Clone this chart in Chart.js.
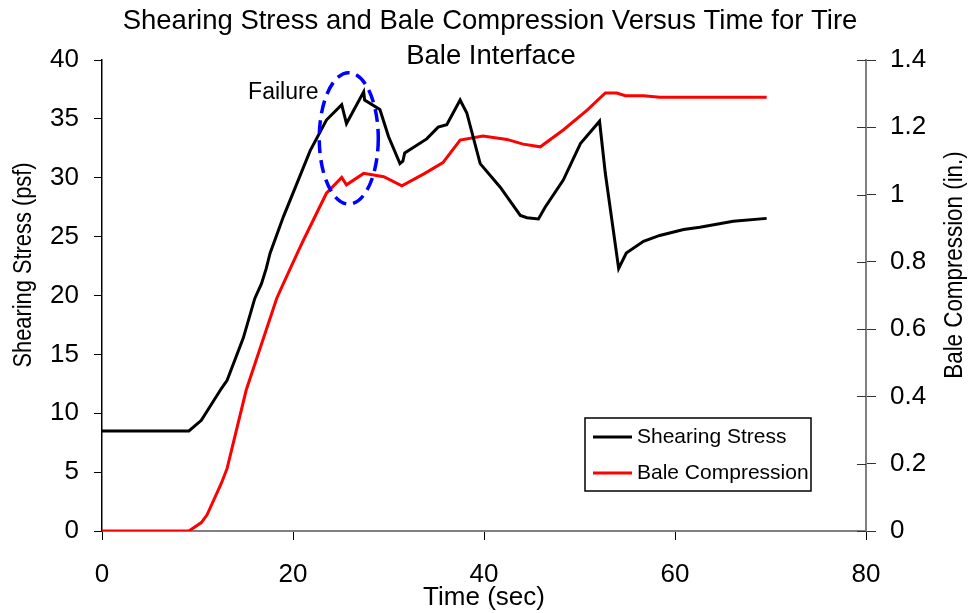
<!DOCTYPE html>
<html>
<head>
<meta charset="utf-8">
<script src="https://cdn.jsdelivr.net/npm/chart.js@4.4.1/dist/chart.umd.min.js"></script>
<style>
  html, body { margin: 0; padding: 0; background: #ffffff; }
  #wrap { width: 972px; height: 613px; position: relative; }
</style>
</head>
<body>
<div id="wrap"><canvas id="c" width="972" height="613"></canvas></div>
<script>
// ---- Data ----
const titleLines = ["Shearing Stress and Bale Compression Versus Time for Tire", "Bale Interface"];
const xTitle = "Time (sec)";
const yLeftTitle = "Shearing Stress (psf)";
const yRightTitle = "Bale Compression (in.)";
const seriesNames = ["Shearing Stress", "Bale Compression"];
const annotationText = "Failure";

const stressTime = [0, 9.1, 10.4, 12.5, 13.1, 14.8, 16.0, 16.7, 17.2, 17.6, 19.0, 20.7, 21.8, 23.5, 25.1, 25.6, 27.4, 27.5, 29.1, 30.0, 31.2, 31.5, 31.7, 34.0, 35.2, 36.1, 37.5, 38.2, 39.6, 41.7, 43.8, 44.5, 45.7, 46.4, 48.3, 50.1, 52.1, 52.7, 54.1, 54.9, 56.7, 58.4, 60.9, 62.6, 66.1, 69.6];
const stressValues = [8.5, 8.5, 9.4, 12.1, 12.8, 16.4, 19.75, 21.0, 22.3, 23.6, 26.7, 30.1, 32.3, 34.9, 36.2, 34.6, 37.3, 36.6, 35.8, 33.5, 31.2, 31.4, 32.1, 33.3, 34.3, 34.5, 36.6, 35.5, 31.2, 29.2, 26.8, 26.6, 26.5, 27.5, 29.8, 32.9, 34.8, 30.4, 22.3, 23.6, 24.6, 25.1, 25.6, 25.8, 26.3, 26.55];

const compTime = [0, 9.1, 10.4, 11.0, 12.5, 13.1, 15.1, 17.2, 18.3, 19.0, 20.6, 21.1, 23.5, 25.1, 25.6, 27.4, 29.5, 31.4, 33.8, 35.7, 37.5, 39.9, 42.4, 44.1, 45.9, 48.3, 50.8, 52.7, 53.9, 54.8, 56.7, 58.4, 69.6];
const compValues = [0, 0, 0.025, 0.048, 0.142, 0.186, 0.419, 0.598, 0.692, 0.736, 0.835, 0.865, 1.004, 1.051, 1.029, 1.063, 1.053, 1.026, 1.063, 1.095, 1.162, 1.174, 1.164, 1.150, 1.142, 1.192, 1.251, 1.302, 1.302, 1.294, 1.294, 1.289, 1.289];

// axis ranges [min, max, step]
const xRange = [0, 80, 20];
const yLeftRange = [0, 40, 5];
const yRightRange = [0, 1.4, 0.2];

// annotation anchor (data units): ellipse centre and radii, label anchor
const failureEllipse = { t: 25.84, v: 33.34, rt: 3.09, rv: 5.58 };
const failureLabel = { t: 15.3, v: 37.3 };

const FONT = "'Liberation Sans', Arial, sans-serif";

const toPts = (xs, ys) => xs.map((x, i) => ({ x: x, y: ys[i] }));

const decorPlugin = {
  id: 'decor',
  afterDraw(chart) {
    const ctx = chart.ctx;
    const xs = chart.scales.x, yl = chart.scales.y, yr = chart.scales.y1;
    ctx.save();
    // title
    ctx.fillStyle = '#000';
    ctx.textAlign = 'center';
    ctx.textBaseline = 'middle';
    ctx.font = '27.5px ' + FONT;
    ctx.fillText(titleLines[0], 490, 21);
    ctx.fillText(titleLines[1], 491, 56);

    // y titles (both reading upward), slightly condensed along the text direction
    ctx.font = '26px ' + FONT;
    ctx.save();
    ctx.translate(24, 265);
    ctx.rotate(-Math.PI / 2);
    ctx.scale(0.84, 1);
    ctx.fillText(yLeftTitle, 0, 0);
    ctx.restore();
    ctx.save();
    ctx.translate(955, 265);
    ctx.rotate(-Math.PI / 2);
    ctx.scale(0.86, 1);
    ctx.fillText(yRightTitle, 0, 0);
    ctx.restore();

    // inner tick marks of the right axis
    ctx.strokeStyle = '#333';
    ctx.lineWidth = 1;
    yr.ticks.forEach((t) => {
      const py = Math.round(yr.getPixelForValue(t.value)) + 0.5;
      ctx.beginPath();
      ctx.moveTo(yr.left - 9, py);
      ctx.lineTo(yr.left, py);
      ctx.stroke();
    });

    // failure ellipse
    const cx = xs.getPixelForValue(failureEllipse.t);
    const cy = yl.getPixelForValue(failureEllipse.v);
    const rx = xs.getPixelForValue(failureEllipse.t + failureEllipse.rt) - cx;
    const ry = cy - yl.getPixelForValue(failureEllipse.v + failureEllipse.rv);
    ctx.strokeStyle = '#0000ff';
    ctx.lineWidth = 3.5;
    ctx.setLineDash([13, 7]);
    ctx.beginPath();
    ctx.ellipse(cx, cy, rx, ry, 0, 0, Math.PI * 2);
    ctx.stroke();
    ctx.setLineDash([]);

    // failure label
    ctx.fillStyle = '#000';
    ctx.font = '23px ' + FONT;
    ctx.textAlign = 'left';
    ctx.textBaseline = 'middle';
    ctx.fillText(annotationText, xs.getPixelForValue(failureLabel.t), yl.getPixelForValue(failureLabel.v) + 0.5);

    // legend
    const lx = 585, ly = 418, lw = 226, lh = 73;
    ctx.fillStyle = '#fff';
    ctx.fillRect(lx, ly, lw, lh);
    ctx.strokeStyle = '#000';
    ctx.lineWidth = 1.5;
    ctx.strokeRect(lx, ly, lw, lh);
    chart.data.datasets.forEach((ds, i) => {
      const yy = ly + 19 + i * 36;
      ctx.strokeStyle = ds.borderColor;
      ctx.lineWidth = 3;
      ctx.beginPath();
      ctx.moveTo(593, yy);
      ctx.lineTo(632, yy);
      ctx.stroke();
      ctx.fillStyle = '#000';
      ctx.font = '21px ' + FONT;
      ctx.textAlign = 'left';
      ctx.fillText(ds.label, 637, yy);
    });
    ctx.restore();
  }
};

new Chart(document.getElementById('c'), {
  type: 'line',
  data: {
    datasets: [
      {
        label: seriesNames[0],
        data: toPts(stressTime, stressValues),
        yAxisID: 'y',
        borderColor: '#000000',
        backgroundColor: '#000000',
        borderWidth: 3,
        pointRadius: 0,
        tension: 0,
        fill: false
      },
      {
        label: seriesNames[1],
        data: toPts(compTime, compValues),
        yAxisID: 'y1',
        borderColor: '#ff0000',
        backgroundColor: '#ff0000',
        borderWidth: 3,
        pointRadius: 0,
        tension: 0,
        fill: false
      }
    ]
  },
  options: {
    responsive: false,
    animation: false,
    layout: { padding: { top: 60, left: 0, right: 0, bottom: 0 } },
    plugins: {
      legend: { display: false },
      title: { display: false },
      tooltip: { enabled: false }
    },
    scales: {
      x: {
        type: 'linear',
        min: xRange[0], max: xRange[1],
        afterFit: (s) => { s.height = 82; },
        ticks: { stepSize: xRange[2], color: '#000', font: { family: FONT, size: 26 }, padding: 19, maxRotation: 0 },
        grid: { drawOnChartArea: false, drawTicks: true, tickLength: 9, tickColor: '#000', tickWidth: 1 },
        border: { color: '#808080', width: 2 },
        title: { display: true, text: xTitle, color: '#000', font: { family: FONT, size: 26 }, padding: { top: 0, bottom: 0 } }
      },
      y: {
        position: 'left',
        min: yLeftRange[0], max: yLeftRange[1],
        afterFit: (s) => { s.width = 102; },
        ticks: { stepSize: yLeftRange[2], color: '#000', font: { family: FONT, size: 26 }, padding: 15 },
        grid: { drawOnChartArea: false, drawTicks: true, tickLength: 8, tickColor: '#000', tickWidth: 1 },
        border: { color: '#000', width: 1.5 }
      },
      y1: {
        position: 'right',
        min: yRightRange[0], max: yRightRange[1],
        afterFit: (s) => { s.width = 106; },
        ticks: {
          stepSize: yRightRange[2], color: '#000', font: { family: FONT, size: 26 }, padding: 14,
          callback: (v) => String(Number(v.toFixed(1)))
        },
        grid: { drawOnChartArea: false, drawTicks: true, tickLength: 10, tickColor: '#333', tickWidth: 1 },
        border: { color: '#808080', width: 2 }
      }
    }
  },
  plugins: [decorPlugin]
});
</script>
</body>
</html>
